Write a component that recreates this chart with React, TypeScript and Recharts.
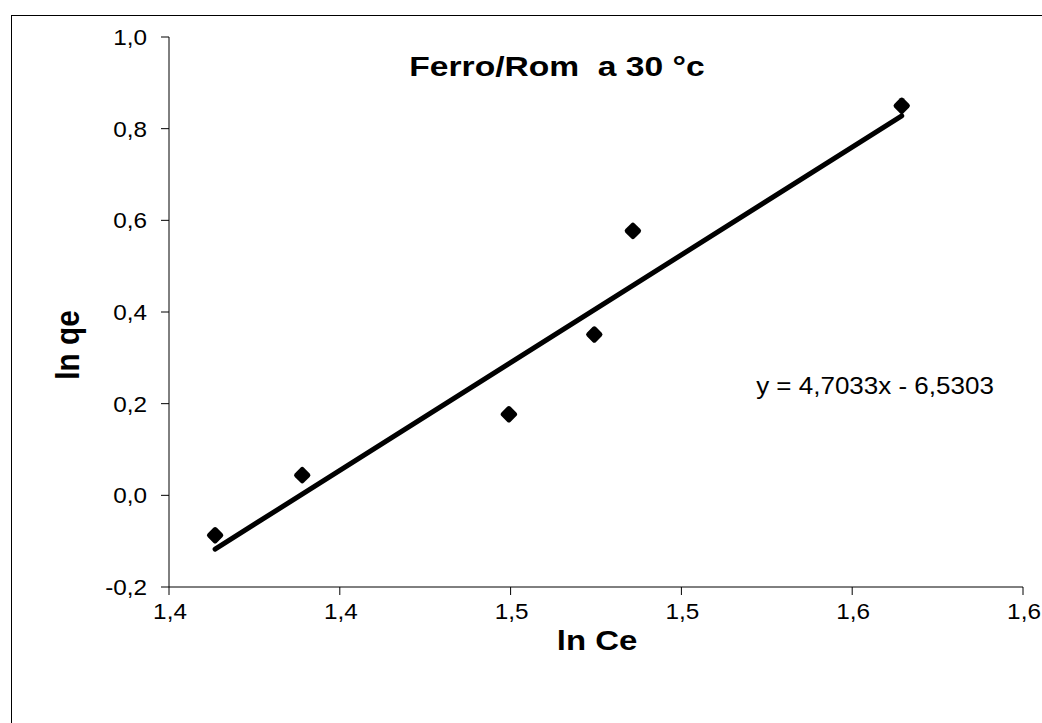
import React from "react";
import {
  ScatterChart,
  Scatter,
  XAxis,
  YAxis,
  ReferenceLine,
} from "recharts";

// ln Ce / ln qe readings
const lnCe = [1.3635, 1.389, 1.4495, 1.4745, 1.4858, 1.5645];
const lnQe = [-0.087, 0.044, 0.177, 0.351, 0.577, 0.85];

const xTicks = [1.35, 1.4, 1.45, 1.5, 1.55, 1.6];
const xTickLabels = ["1,4", "1,4", "1,5", "1,5", "1,6", "1,6"];
const yTicks = [-0.2, 0, 0.2, 0.4, 0.6, 0.8, 1.0];
const yTickLabels = ["-0,2", "0,0", "0,2", "0,4", "0,6", "0,8", "1,0"];

const slope = 4.7033;
const intercept = -6.5303;

const FONT = "'Liberation Sans', Arial, sans-serif";
const STRETCH = 1.08;

const points = lnCe.map((x, i) => ({ x, y: lnQe[i] }));
const xMin = Math.min(...lnCe);
const xMax = Math.max(...lnCe);

const Diamond = (props: any) => {
  const { cx, cy } = props;
  return (
    <rect
      x={cx - 6.5}
      y={cy - 6.5}
      width={13}
      height={13}
      rx={2.5}
      fill="#000"
      transform={`rotate(45 ${cx} ${cy})`}
    />
  );
};

const XTick = (props: any) => {
  const { x, y, index } = props;
  return (
    <text
      transform={`translate(${x + 1} ${y + 24}) scale(${STRETCH} 1)`}
      textAnchor="middle"
      fontSize={22.5}
      fontFamily={FONT}
      fill="#000"
    >
      {xTickLabels[index]}
    </text>
  );
};

const YTick = (props: any) => {
  const { x, y, index } = props;
  return (
    <text
      transform={`translate(${x} ${y + 8}) scale(${STRETCH} 1)`}
      textAnchor="end"
      fontSize={22.5}
      fontFamily={FONT}
      fill="#000"
    >
      {yTickLabels[index]}
    </text>
  );
};

const txt = (
  left: number,
  top: number,
  size: number,
  sx: number,
  extra: React.CSSProperties = {}
) =>
  ({
    position: "absolute",
    left,
    top,
    transform: `translate(-50%, -50%) scale(${sx}, 1)`,
    whiteSpace: "nowrap",
    lineHeight: 1,
    fontFamily: FONT,
    fontSize: size,
    color: "#000",
    ...extra,
  }) as React.CSSProperties;

export default function App() {
  return (
    <div
      style={{
        position: "absolute",
        left: 0,
        top: 0,
        width: 1042,
        height: 723,
        background: "#fff",
        overflow: "hidden",
      }}
    >
      <div
        style={{
          position: "absolute",
          left: 11,
          top: 15,
          width: 1060,
          height: 760,
          border: "1px solid #000",
        }}
      />
      <div style={{ position: "absolute", left: 0, top: 0 }}>
        <ScatterChart
          width={1042}
          height={723}
          margin={{ top: 37, right: 19, bottom: 0, left: 0 }}
        >
          <XAxis
            type="number"
            dataKey="x"
            domain={[1.35, 1.6]}
            ticks={xTicks}
            axisLine={{ stroke: "#000", strokeWidth: 1 }}
            tickLine={{ stroke: "#000" }}
            tickSize={8}
            tickMargin={0}
            height={136}
            tick={<XTick />}
            allowDataOverflow
          />
          <YAxis
            type="number"
            dataKey="y"
            domain={[-0.2, 1.0]}
            ticks={yTicks}
            axisLine={{ stroke: "#000", strokeWidth: 1 }}
            tickLine={{ stroke: "#000" }}
            tickSize={8}
            tickMargin={14}
            width={169}
            tick={<YTick />}
            allowDataOverflow
          />
          <ReferenceLine
            segment={[
              { x: xMin, y: slope * xMin + intercept },
              { x: xMax, y: slope * xMax + intercept },
            ]}
            stroke="#000"
            strokeWidth={5}
            strokeLinecap="round"
          />
          <Scatter
            data={points}
            shape={Diamond}
            isAnimationActive={false}
          />
        </ScatterChart>
      </div>
      <div style={txt(557, 67, 28, 1.2, { fontWeight: "bold" })}>
        Ferro/Rom&nbsp; a 30 °c
      </div>
      <div
        style={txt(69, 345, 27, 1, {
          fontWeight: "bold",
          transform: "translate(-50%, -50%) rotate(-90deg) scale(1.1, 1.2)",
        })}
      >
        ln qe
      </div>
      <div style={txt(597, 641, 27, 1.22, { fontWeight: "bold" })}>
        ln Ce
      </div>
      <div style={txt(875, 386, 23, 1.13)}>y = 4,7033x - 6,5303</div>
    </div>
  );
}
